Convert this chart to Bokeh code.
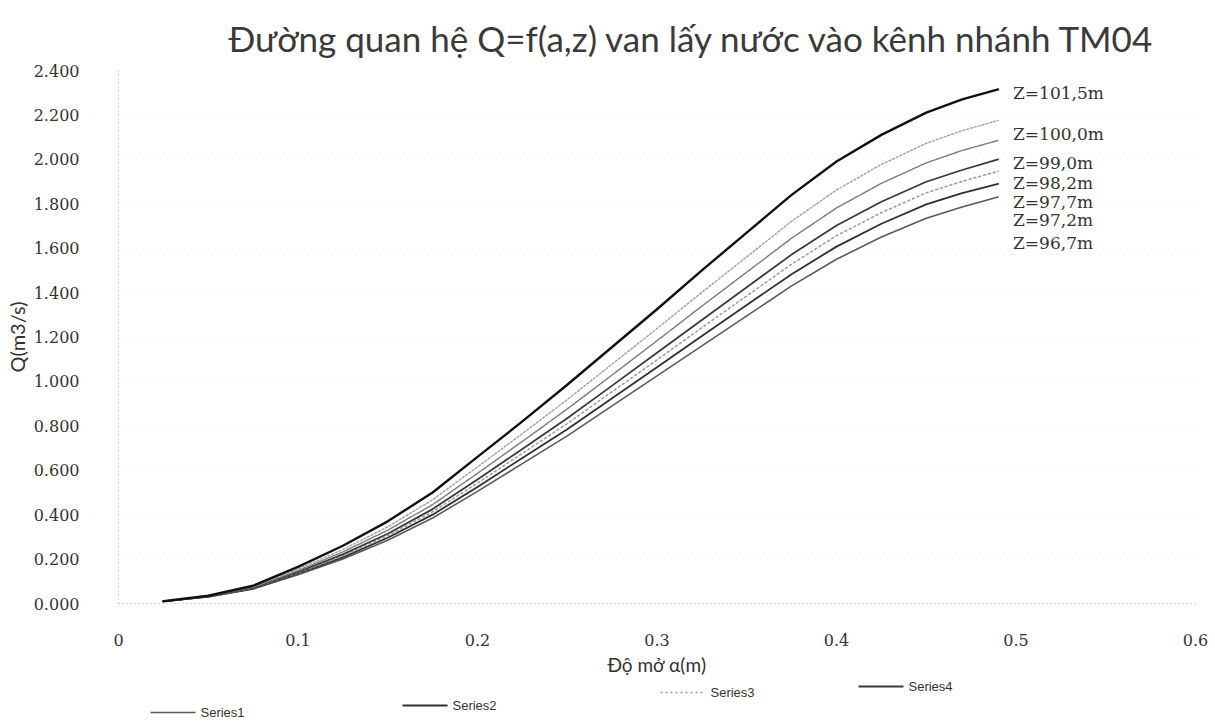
from bokeh.plotting import figure
from bokeh.layouts import column
from bokeh.models import (FixedTicker, NumeralTickFormatter, ColumnDataSource, Range1d)
from bokeh.core.properties import value
from bokeh.embed import file_html
from bokeh.resources import INLINE

# ---------------- data ----------------
title_text = "Đường quan hệ Q=f(a,z) van lấy nước vào kênh nhánh TM04"
x_label = "Độ mở α(m)"
y_label = "Q(m3/s)"

series_names = ["Series1", "Series2", "Series3", "Series4", "Series5", "Series6", "Series7"]
z_labels = ["Z=96,7m", "Z=97,2m", "Z=97,7m", "Z=98,2m", "Z=99,0m", "Z=100,0m", "Z=101,5m"]

a_open = [0.025, 0.05, 0.075, 0.10, 0.125, 0.15, 0.175, 0.20, 0.225, 0.25,
          0.275, 0.30, 0.325, 0.35, 0.375, 0.40, 0.425, 0.45, 0.47, 0.49]

q_s1 = [0.01, 0.03, 0.065, 0.13, 0.20, 0.285, 0.385, 0.505, 0.63, 0.755,
        0.89, 1.025, 1.16, 1.295, 1.43, 1.55, 1.65, 1.735, 1.785, 1.83]      # Z=96,7m
q_s2 = [0.01, 0.031, 0.067, 0.135, 0.208, 0.296, 0.40, 0.525, 0.655, 0.785,
        0.924, 1.064, 1.204, 1.344, 1.483, 1.607, 1.71, 1.797, 1.848, 1.89]   # Z=97,2m
q_s3 = [0.01, 0.031, 0.069, 0.138, 0.214, 0.305, 0.413, 0.542, 0.676, 0.81,
        0.954, 1.097, 1.242, 1.385, 1.528, 1.656, 1.76, 1.849, 1.901, 1.946]  # Z=97,7m
q_s4 = [0.01, 0.032, 0.07, 0.142, 0.221, 0.314, 0.425, 0.558, 0.696, 0.834,
        0.981, 1.129, 1.277, 1.424, 1.571, 1.702, 1.809, 1.899, 1.952, 2.00]  # Z=98,2m
q_s5 = [0.01, 0.033, 0.073, 0.148, 0.232, 0.33, 0.445, 0.586, 0.73, 0.876,
        1.029, 1.183, 1.339, 1.492, 1.645, 1.781, 1.892, 1.984, 2.04, 2.085]  # Z=99,0m
q_s6 = [0.01, 0.034, 0.076, 0.155, 0.243, 0.345, 0.467, 0.615, 0.765, 0.918,
        1.078, 1.238, 1.401, 1.561, 1.721, 1.862, 1.977, 2.072, 2.129, 2.175] # Z=100,0m
q_s7 = [0.01, 0.035, 0.08, 0.165, 0.26, 0.37, 0.50, 0.66, 0.82, 0.985,
        1.155, 1.325, 1.50, 1.67, 1.84, 1.99, 2.11, 2.21, 2.27, 2.315]        # Z=101,5m

all_series = [q_s1, q_s2, q_s3, q_s4, q_s5, q_s6, q_s7]

x_ticks = [0, 0.1, 0.2, 0.3, 0.4, 0.5, 0.6]
x_tick_labels = ["0", "0.1", "0.2", "0.3", "0.4", "0.5", "0.6"]
y_ticks = [0, 0.2, 0.4, 0.6, 0.8, 1.0, 1.2, 1.4, 1.6, 1.8, 2.0, 2.2, 2.4]

# ---------------- styles / layout ----------------
line_colors = ["#5a5a5a", "#303030", "#9a9a9a", "#3a3a3a", "#7a7a7a", "#a0a0a0", "#111111"]
line_widths = [1.6, 1.8, 1.5, 1.8, 1.4, 1.4, 2.4]
line_dashes = ["solid", "solid", "2 3", "solid", "4 1", "2 2", "solid"]
label_dy = [46, 36, 31, 24, 23, 14, 4]          # pixel drop of each Z label (Series1..7)
frame_left, frame_right = 118, 1195             # pixel extent of the plot frame
legend_px_x = [150, 402, 660, 858]              # legend sample start (page px)
legend_px_y = [8, 15, 28, 34]                   # legend row height (px from strip bottom)
legend_sample_len = 45

p = figure(width=1213, height=678,
           min_border_left=frame_left, min_border_right=1213 - frame_right,
           min_border_top=70, min_border_bottom=72,
           x_range=Range1d(0, 0.6), y_range=Range1d(0, 2.4),
           output_backend="svg", toolbar_location=None, title=title_text)

p.title.text_font = "Lato"
p.title.text_font_size = "35px"
p.title.text_font_style = "normal"
p.title.text_color = "#3a3a3a"
p.title.align = "left"
p.title.offset = 110
p.title.standoff = 24

p.outline_line_color = None
p.background_fill_color = "white"
p.border_fill_color = "white"

for q, c, w, d in zip(all_series, line_colors, line_widths, line_dashes):
    p.line(a_open, q, line_color=c, line_width=w, line_dash=d,
           line_join="round", line_cap="round")

# Z labels at curve ends
lab_src = ColumnDataSource(dict(
    x=[a_open[-1]] * len(all_series),
    y=[s[-1] for s in all_series],
    text=z_labels,
    dy=label_dy,
))
p.text(x="x", y="y", text="text", y_offset="dy", x_offset=15, source=lab_src,
       text_baseline="middle", text_align="left",
       text_font=value("DejaVu Serif"), text_font_size="17px", text_color="#333333")

# axes
p.xaxis.ticker = FixedTicker(ticks=x_ticks)
p.xaxis.major_label_overrides = {t: l for t, l in zip(x_ticks, x_tick_labels)}
p.yaxis.ticker = FixedTicker(ticks=y_ticks)
p.yaxis.formatter = NumeralTickFormatter(format="0.000")

for ax in (p.xaxis, p.yaxis):
    ax.major_label_text_font = "DejaVu Serif"
    ax.major_label_text_font_size = "16px"
    ax.major_label_text_color = "#333333"
    ax.major_tick_line_color = None
    ax.minor_tick_line_color = None
    ax.axis_line_color = "#b0b0b0"
    ax.axis_line_dash = "1 3"
    ax.axis_label_text_font = "Lato"
    ax.axis_label_text_font_style = "normal"
    ax.axis_label_text_color = "#333333"

p.xaxis.axis_label = x_label
p.xaxis.axis_label_text_font_size = "19px"
p.xaxis.major_label_standoff = 24
p.xaxis.axis_label_standoff = 4

p.yaxis.axis_label = y_label
p.yaxis.axis_label_text_font_size = "20px"
p.yaxis.major_label_standoff = 33
p.yaxis.axis_label_standoff = 2

p.xgrid.visible = False
p.ygrid.grid_line_color = "#c8c8c8"
p.ygrid.grid_line_dash = "1 5"
p.ygrid.grid_line_alpha = 0.4

# ---------------- legend strip (Series1..Series4 as in the reference) ----------------
# the column layout aligns this strip's frame with the chart frame, so its x range
# is expressed in page pixels of that frame
leg = figure(width=1213, height=42,
             x_range=Range1d(frame_left, frame_right), y_range=Range1d(0, 42),
             min_border_left=frame_left, min_border_right=1213 - frame_right,
             min_border_top=0, min_border_bottom=0,
             output_backend="svg", toolbar_location=None)
leg.axis.visible = False
leg.grid.visible = False
leg.outline_line_color = None
leg.background_fill_color = "white"
leg.border_fill_color = "white"

for i in range(4):
    x0 = legend_px_x[i]
    y0 = legend_px_y[i]
    leg.segment(x0=[x0], y0=[y0], x1=[x0 + legend_sample_len], y1=[y0],
                line_color=line_colors[i], line_width=line_widths[i], line_dash=line_dashes[i])
    leg.text(x=[x0 + legend_sample_len + 5], y=[y0], text=[series_names[i]],
             text_baseline="middle", text_align="left",
             text_font=value("Liberation Sans, sans-serif"), text_font_size="13px",
             text_color="#333333")

layout = column(p, leg, spacing=0)
open("out.html", "w").write(file_html(layout, INLINE))
